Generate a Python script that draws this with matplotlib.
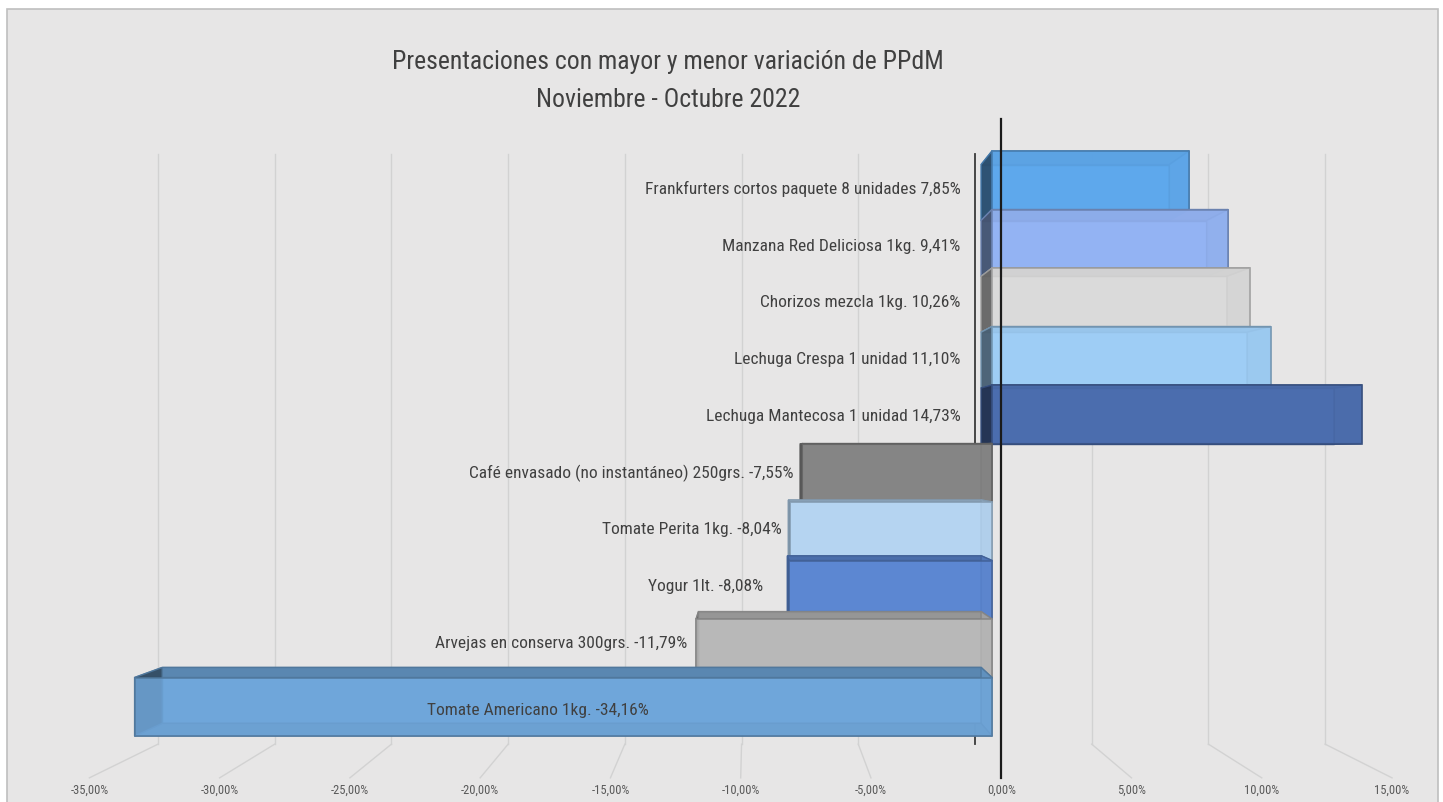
import matplotlib
matplotlib.use('Agg')
import matplotlib.pyplot as plt
from matplotlib.patches import Polygon, Rectangle
from matplotlib import font_manager as fm
import matplotlib.colors as mcolors

# ---------------- data ----------------
names = ["Frankfurters cortos paquete 8 unidades",
         "Manzana Red Deliciosa 1kg.",
         "Chorizos mezcla 1kg.",
         "Lechuga Crespa 1 unidad",
         "Lechuga Mantecosa 1 unidad",
         "Café envasado (no instantáneo) 250grs.",
         "Tomate Perita 1kg.",
         "Yogur 1lt.",
         "Arvejas en conserva 300grs.",
         "Tomate Americano 1kg."]
values = [7.85, 9.41, 10.26, 11.10, 14.73, -7.55, -8.04, -8.08, -11.79, -34.16]
colors = ['#5ea8ec', '#93b3f3', '#dadada', '#9ecdf5', '#4b6dae',
          '#858585', '#b5d4f1', '#5c87d2', '#b8b8b8', '#6fa6da']
tick_vals = [-35, -30, -25, -20, -15, -10, -5, 0, 5, 10, 15]
title_lines = ["Presentaciones con mayor y menor variación de PPdM",
               "Noviembre - Octubre 2022"]

# ---------------- fonts ----------------
avail = {f.name for f in fm.fontManager.ttflist}
FONT = 'DejaVu Sans'
for cand in ['Liberation Sans Narrow', 'Roboto Condensed', 'Open Sans Condensed', 'Liberation Sans']:
    if cand in avail:
        FONT = cand
        break
plt.rcParams['font.family'] = [FONT, 'DejaVu Sans']

W, H = 1443, 803
fig = plt.figure(figsize=(W / 100, H / 100), dpi=100)
fig.patch.set_facecolor('white')
fig.add_artist(Rectangle((7 / W, -0.02), (1438 - 7) / W, 1.02 - 10 / H,
                         transform=fig.transFigure, facecolor='#e7e6e6',
                         edgecolor='#bfbfbf', lw=1.2, zorder=0))

ax = fig.add_axes([0, 0, 1, 1])
ax.set_facecolor('none')
XS, X0 = 25.1, 992.0     # px per percent, px of zero on the front plane
YS, Y0 = 58.5, 152.0     # px per row, px of first row top
ax.set_xlim((0 - X0) / XS, (W - X0) / XS)
ax.set_ylim((H - Y0) / YS, (0 - Y0) / YS)
ax.axis('off')

# perspective: vanishing point in data units
VPX, VPY = (749 - X0) / XS, (455 - Y0) / YS
K_BACK = 0.955
K_WALL = 0.93
K_EDGE = 1.038
K_LABEL = 0.97
WALL_TOP = (132 - Y0) / YS
FLOOR = (767 - Y0) / YS


def proj(x, y, k):
    return (VPX + k * (x - VPX), VPY + k * (y - VPY))


def shade(c, f):
    r, g, b = mcolors.to_rgb(c)
    return (r * f, g * f, b * f)


# ---------------- back wall grid + floor lines ----------------
for t in tick_vals:
    p1 = proj(t, WALL_TOP, K_WALL)
    p2 = proj(t, FLOOR, K_WALL)
    p3 = proj(t, FLOOR, K_EDGE)
    col = '#3a3a3a' if t == 0 else '#d2d2d2'
    lw = 1.3 if t == 0 else 1.0
    ax.plot([p1[0], p2[0]], [p1[1], p2[1]], color=col, lw=lw, zorder=1)
    if t != 0:
        ax.plot([p2[0], p3[0]], [p2[1], p3[1]], color='#d2d2d2', lw=1.0, zorder=1)
    lx, ly = proj(t, FLOOR, K_EDGE)
    ax.text(lx, ly + 11 / YS, f"{t:.2f}%".replace('.', ','),
            ha='center', va='center', fontsize=9, color='#595959', zorder=6)

# ---------------- bars ----------------
for i, (v, c) in enumerate(zip(values, colors)):
    xa, xb = min(0, v), max(0, v)
    ya, yb = i, i + 1
    F = [(xa, ya), (xb, ya), (xb, yb), (xa, yb)]
    B = [proj(x, y, K_BACK) for x, y in F]
    ec = shade(c, 0.72)
    z = 2 + i * 0.01
    ax.add_patch(Polygon(B, closed=True, facecolor=c, edgecolor=ec, lw=1.0, zorder=z))
    faces = [([F[0], F[1], B[1], B[0]], 0.80),
             ([F[1], F[2], B[2], B[1]], 0.88),
             ([F[2], F[3], B[3], B[2]], 0.80),
             ([F[3], F[0], B[0], B[3]], 0.45)]
    for pts, f in faces:
        ax.add_patch(Polygon(pts, closed=True, facecolor=shade(c, f), edgecolor=ec,
                             lw=1.0, alpha=0.92, zorder=z + 0.001))
    ax.add_patch(Polygon(F, closed=True, facecolor=c, edgecolor=ec, lw=1.3,
                         alpha=0.82, zorder=z + 0.002))

# ---------------- front axis line ----------------
pa = proj(0, WALL_TOP, K_EDGE)
pb = proj(0, FLOOR, K_EDGE)
ax.plot([pa[0], pb[0]], [pa[1], pb[1]], color='#1a1a1a', lw=1.6, zorder=5)

# ---------------- data labels ----------------
for i, (n, v) in enumerate(zip(names, values)):
    num = f"{v:.2f}".replace('.', ',')
    txt = f"{n} {num}%"
    _, y = proj(0, i + 0.5, K_LABEL)
    style = dict(fontsize=12.5, color='#404040', zorder=7, va='center')
    if v >= 0:
        ax.text(-1.25, y, txt, ha='right', **style)
    elif abs(v) > 20:
        ax.text(v / 2 - 1.0, i + 0.55, txt, ha='center', **style)
    else:
        gap = 1.05 if n.startswith('Yogur') else 0.35
        ax.text(v - gap, y, txt, ha='right', **style)

# ---------------- title ----------------
cx = (668 - X0) / XS
ax.text(cx, (62 - Y0) / YS, title_lines[0], ha='center', va='center',
        fontsize=18.5, color='#404040', zorder=7)
ax.text(cx, (100 - Y0) / YS, title_lines[1], ha='center', va='center',
        fontsize=18.5, color='#404040', zorder=7)

fig.savefig('out.png', dpi=100, facecolor=fig.get_facecolor())
